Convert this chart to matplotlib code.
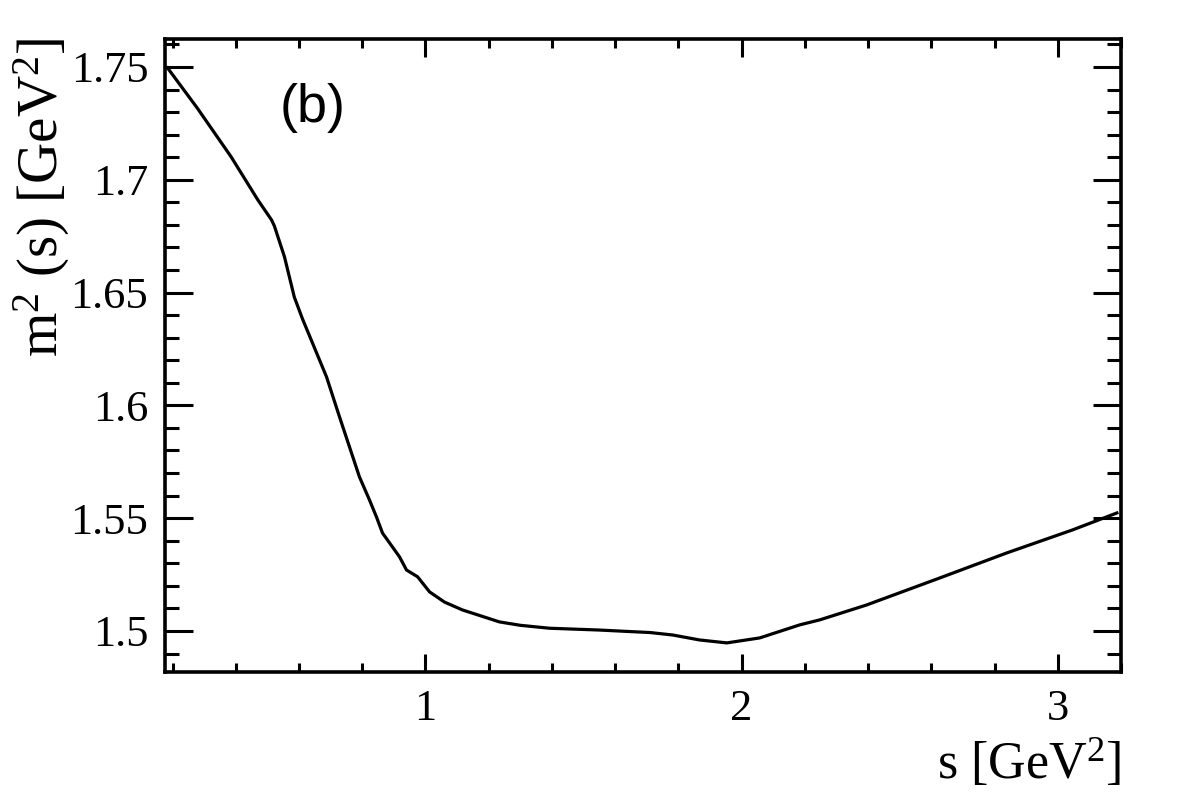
import matplotlib
matplotlib.use("Agg")
import matplotlib.pyplot as plt
from matplotlib.ticker import MultipleLocator, FormatStrFormatter

# data
s_vals = [0.184, 0.278, 0.385, 0.470, 0.513, 0.522, 0.554, 0.585, 0.611, 0.687,
          0.728, 0.791, 0.823, 0.845, 0.864, 0.918, 0.94, 0.975, 1.013, 1.06,
          1.117, 1.234, 1.30, 1.392, 1.55, 1.636, 1.71, 1.782, 1.867, 1.953,
          2.057, 2.184, 2.247, 2.395, 2.627, 2.839, 3.047, 3.187]
m2_vals = [1.7496, 1.7318, 1.7102, 1.6910, 1.6822, 1.6795, 1.6658, 1.648, 1.6383, 1.6126,
           1.5949, 1.5683, 1.558, 1.5505, 1.5434, 1.5328, 1.527, 1.524, 1.5173, 1.5128,
           1.5093, 1.504, 1.5025, 1.5012, 1.5004, 1.4998, 1.4993, 1.4982, 1.496, 1.4947,
           1.4969, 1.5027, 1.5049, 1.5115, 1.5235, 1.5346, 1.5448, 1.5523]

x_range = (0.176, 3.2)
y_range = (1.4818, 1.7624)
x_label = "s [GeV$^{2}$]"
y_label = "m$^{2}$ (s) [GeV$^{2}$]"
panel_tag = "(b)"

plt.rcParams['font.family'] = ['Liberation Serif', 'DejaVu Serif']
plt.rcParams['mathtext.fontset'] = 'custom'
plt.rcParams['mathtext.rm'] = 'Liberation Serif'
plt.rcParams['mathtext.it'] = 'Liberation Serif:italic'

fig = plt.figure(figsize=(11.82, 8.0), dpi=100)
ax = fig.add_axes([165/1182, 1-672/800, (1121-165)/1182, (672-39)/800])

ax.plot(s_vals, m2_vals, color='black', lw=2.3, solid_joinstyle='round')

ax.set_xlim(*x_range)
ax.set_ylim(*y_range)

ax.xaxis.set_major_locator(MultipleLocator(1))
ax.xaxis.set_minor_locator(MultipleLocator(0.2))
ax.yaxis.set_major_locator(MultipleLocator(0.05))
ax.yaxis.set_minor_locator(MultipleLocator(0.01))
ax.xaxis.set_major_formatter(FormatStrFormatter('%g'))
ax.yaxis.set_major_formatter(FormatStrFormatter('%g'))

for sp in ax.spines.values():
    sp.set_linewidth(2.6)

ax.tick_params(axis='x', which='both', direction='in', top=True, bottom=True,
               width=2.2, labelsize=32, pad=12)
ax.tick_params(axis='x', which='major', length=13)
ax.tick_params(axis='x', which='minor', length=6.5)
ax.tick_params(axis='y', which='both', direction='in', left=True, right=True,
               width=2.2, labelsize=32, pad=12)
ax.tick_params(axis='y', which='major', length=20)
ax.tick_params(axis='y', which='minor', length=10)

fig.text(1121/1182, 21/800, x_label, ha='right', va='baseline', fontsize=37.5)
fig.text(42/1182, 1-37/800, y_label, ha='center', va='top', rotation=90, fontsize=41)
fig.text(280/1182, 1-108/800, panel_tag, ha='left', va='center', fontsize=39,
         family=['Liberation Sans', 'DejaVu Sans'])

fig.savefig("out.png", dpi=100, facecolor='white')
